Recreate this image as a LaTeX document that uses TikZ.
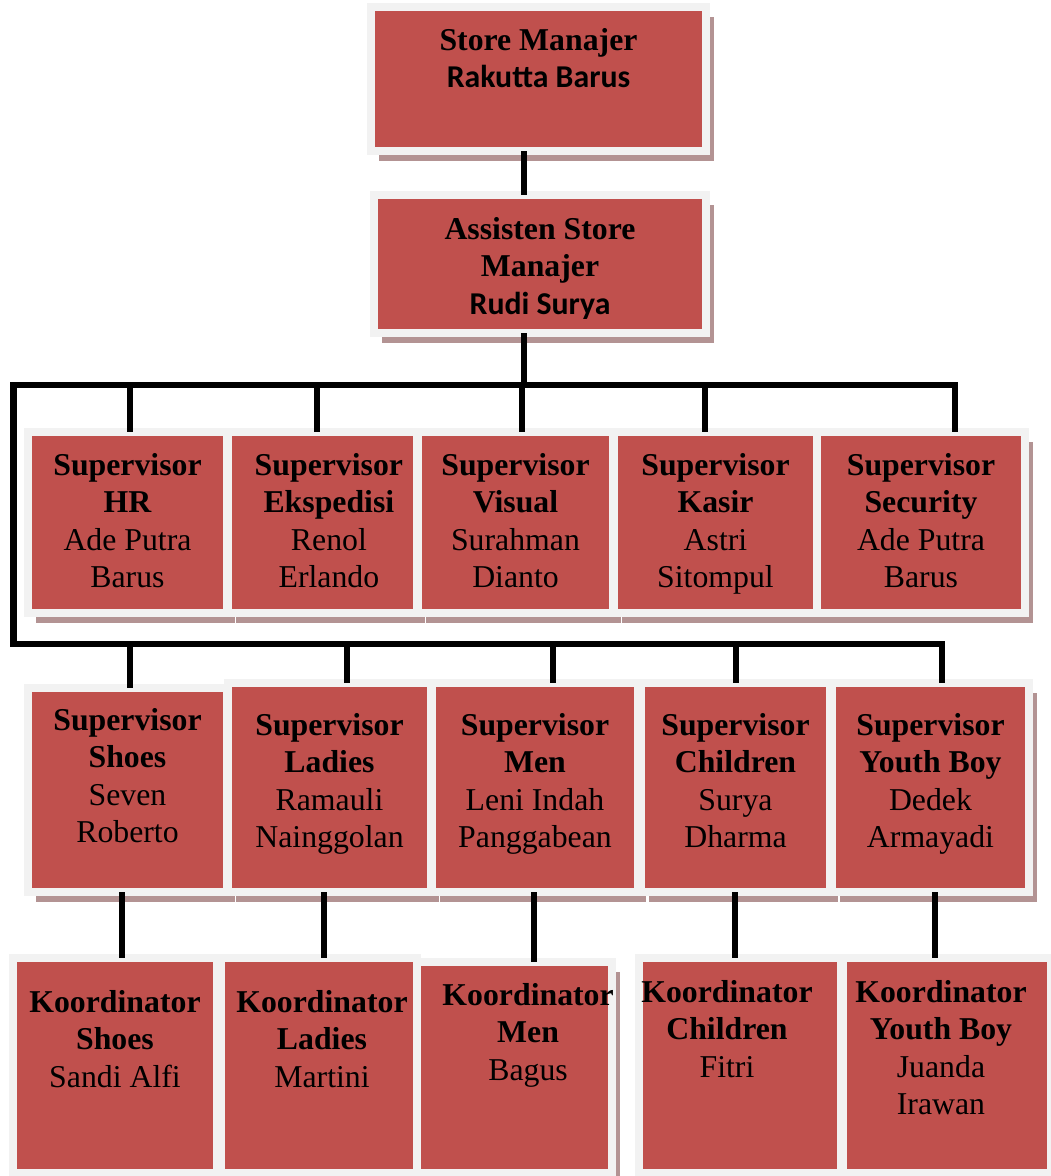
\documentclass[tikz,border=0pt]{standalone}
\usepackage{fontspec}
\setmainfont{Liberation Serif}
\newfontfamily\calibrifont{Carlito}
\usetikzlibrary{positioning,shadows}
\definecolor{boxred}{HTML}{C0504D}
\definecolor{framegrey}{HTML}{F2F2F2}
\definecolor{shadowgrey}{HTML}{B39393}
\tikzset{
  box/.style={draw=framegrey, fill=boxred, line width=0.2cm, inner sep=0pt, outer sep=0pt,
    drop shadow={shadow xshift=0.2cm, shadow yshift=-0.25cm, fill=shadowgrey, opacity=1}},
  txt/.style={align=center, inner sep=0pt, font=\fontsize{22.6}{26.6}\selectfont},
  wire/.style={line width=0.15cm},
}
\begin{document}
\begin{tikzpicture}[x=0.025cm, y=-0.025cm]
  \useasboundingbox (0,0) rectangle (1051,1176);
  \coordinate (trunk) at (524,0);
  \coordinate (bus1) at (13.5,385);
  \coordinate (bus2) at (13.5,644);

  % pimpinan
  \node[box, minimum width=8.375cm, minimum height=3.6cm] (sm) at (538.5,79) {};
  \node[txt, below=0.525cm of sm.north] (smt) {\textbf{Store Manajer}\\{\calibrifont\bfseries Rakutta Barus}};
  \node[box, minimum width=8.3cm, minimum height=3.45cm] (asm) at (540,264) {};
  \node[txt, below=0.55cm of asm.north] (asmt) {\textbf{Assisten Store}\\\textbf{Manajer}\\{\calibrifont\bfseries Rudi Surya}};

  % supervisor baris 1
  \node[box, minimum width=4.975cm, minimum height=4.525cm] (hr) at (127.5,522.5) {};
  \node[txt, below=0.525cm of hr.north] (hrt) {\textbf{Supervisor}\\\textbf{HR}\\Ade Putra\\Barus};
  \node[box, minimum width=4.725cm, minimum height=4.525cm] (eks) at (322.5,522.5) {};
  \node[txt, below=0.525cm of eks.north, xshift=0.16cm] (ekst) {\textbf{Supervisor}\\\textbf{Ekspedisi}\\Renol\\Erlando};
  \node[box, minimum width=4.875cm, minimum height=4.525cm] (vis) at (515.5,522.5) {};
  \node[txt, below=0.525cm of vis.north] (vist) {\textbf{Supervisor}\\\textbf{Visual}\\Surahman\\Dianto};
  \node[box, minimum width=5.075cm, minimum height=4.525cm] (kas) at (715.5,522.5) {};
  \node[txt, below=0.525cm of kas.north] (kast) {\textbf{Supervisor}\\\textbf{Kasir}\\Astri\\Sitompul};
  \node[box, minimum width=5.2cm, minimum height=4.525cm] (sec) at (921,522.5) {};
  \node[txt, below=0.525cm of sec.north] (sect) {\textbf{Supervisor}\\\textbf{Security}\\Ade Putra\\Barus};

  % supervisor baris 2
  \node[box, minimum width=4.975cm, minimum height=5.1cm] (shs) at (127.5,790) {};
  \node[txt, below=0.5cm of shs.north] (shst) {\textbf{Supervisor}\\\textbf{Shoes}\\Seven\\Roberto};
  \node[box, minimum width=5.075cm, minimum height=5.225cm] (lad) at (329.5,787.5) {};
  \node[txt, below=0.75cm of lad.north] (ladt) {\textbf{Supervisor}\\\textbf{Ladies}\\Ramauli\\Nainggolan};
  \node[box, minimum width=5.15cm, minimum height=5.225cm] (men) at (535,787.5) {};
  \node[txt, below=0.75cm of men.north] (ment) {\textbf{Supervisor}\\\textbf{Men}\\Leni Indah\\Panggabean};
  \node[box, minimum width=4.725cm, minimum height=5.225cm] (chi) at (735.5,787.5) {};
  \node[txt, below=0.75cm of chi.north] (chit) {\textbf{Supervisor}\\\textbf{Children}\\Surya\\Dharma};
  \node[box, minimum width=4.925cm, minimum height=5.225cm] (yth) at (930.5,787.5) {};
  \node[txt, below=0.75cm of yth.north] (ytht) {\textbf{Supervisor}\\\textbf{Youth Boy}\\Dedek\\Armayadi};

  % koordinator
  \node[box, minimum width=5.1cm, minimum height=5.375cm] (kshs) at (115,1065.5) {};
  \node[txt, below=0.8cm of kshs.north] (kshst) {\textbf{Koordinator}\\\textbf{Shoes}\\Sandi Alfi};
  \node[box, minimum width=4.9cm, minimum height=5.375cm] (klad) at (319,1065.5) {};
  \node[txt, below=0.8cm of klad.north, xshift=0.075cm] (kladt) {\textbf{Koordinator}\\\textbf{Ladies}\\Martini};
  \node[box, minimum width=4.875cm, minimum height=5.275cm] (kmen) at (514.5,1067.5) {};
  \node[txt, below=0.525cm of kmen.north, xshift=0.34cm] (kment) {\textbf{Koordinator}\\\textbf{Men}\\Bagus};
  \node[box, minimum width=5.05cm, minimum height=5.375cm] (kchi) at (740,1065.5) {};
  \node[txt, below=0.55cm of kchi.north, xshift=-0.325cm] (kchit) {\textbf{Koordinator}\\\textbf{Children}\\Fitri};
  \node[box, minimum width=5.2cm, minimum height=5.375cm] (kyth) at (947,1065.5) {};
  \node[txt, below=0.55cm of kyth.north, xshift=-0.15cm] (kytht) {\textbf{Koordinator}\\\textbf{Youth Boy}\\Juanda\\Irawan};

  % garis
  \draw[wire] (sm.south -| trunk) -- (asm.north -| trunk);
  \draw[wire] (asm.south -| trunk) -- (trunk |- bus1);
  \draw[wire] ([shift={(34,0)}]sec.north) |- (bus1) -- (bus2) -| ([shift={(11.5,0)}]yth.north);
  \foreach \n/\d in {hr/2.5, eks/-5.5, vis/6.5, kas/-10.5}
    \draw[wire] ([shift={(\d,0)}]\n.north) -- ([shift={(\d,0)}]\n.north |- bus1);
  \foreach \n/\d in {shs/2.5, lad/17.5, men/18, chi/0}
    \draw[wire] ([shift={(\d,0)}]\n.north) -- ([shift={(\d,0)}]\n.north |- bus2);
  \foreach \a/\b/\d in {shs/kshs/-5.5, lad/klad/-5.5, men/kmen/-1, chi/kchi/-0.5, yth/kyth/4.5}
    \draw[wire] ([shift={(\d,0)}]\a.south) -- ([shift={(\d,0)}]\a.south |- \b.north);
\end{tikzpicture}
\end{document}
